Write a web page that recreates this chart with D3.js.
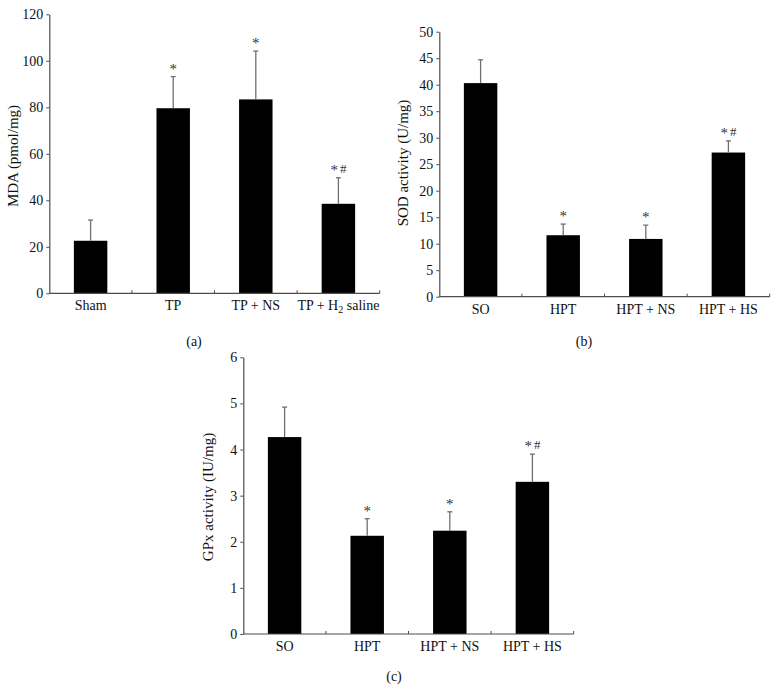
<!DOCTYPE html>
<html><head><meta charset="utf-8">
<script src="https://cdn.jsdelivr.net/npm/d3@7"></script>
<style>body{margin:0;background:#fff}svg{display:block;font-family:"Liberation Serif","Times New Roman",serif}</style>
</head><body><svg id="c" width="777" height="685"></svg>
<script>
// Panel (a)
const catsA = ["Sham","TP","TP + NS","TP + H2 saline"];
const meanA = [22.6, 79.6, 83.4, 38.5];
const errA  = [31.5, 93.2, 104.2, 49.7];
const sigA  = ["", "*", "*", "*#"];
const ticksA = [0,20,40,60,80,100,120];
// Panel (b)
const catsB = ["SO","HPT","HPT + NS","HPT + HS"];
const meanB = [40.3, 11.6, 10.9, 27.2];
const errB  = [44.7, 13.7, 13.5, 29.4];
const sigB  = ["", "*", "*", "*#"];
const ticksB = [0,5,10,15,20,25,30,35,40,45,50];
// Panel (c)
const catsC = ["SO","HPT","HPT + NS","HPT + HS"];
const meanC = [4.27, 2.13, 2.24, 3.30];
const errC  = [4.92, 2.50, 2.65, 3.90];
const sigC  = ["", "*", "*", "*#"];
const ticksC = [0,1,2,3,4,5,6];

const svg = d3.select("#c");
const AX = "#4d4d4d";
const FS = 14;

function panel(cfg){
  const g = svg.append("g");
  const x = d3.scaleBand().domain(cfg.cats).range([cfg.x0, cfg.x1]).paddingInner(0).paddingOuter(0);
  const y = d3.scaleLinear().domain([0, cfg.ymax]).range([cfg.y0, cfg.y1]);
  const bw = x.bandwidth()*0.405;
  g.selectAll("rect.bar").data(cfg.cats).enter().append("rect")
    .attr("x", d=>x(d)+x.bandwidth()/2-bw/2)
    .attr("width", bw)
    .attr("y", (d,i)=>y(cfg.mean[i]))
    .attr("height", (d,i)=>y(0)-y(cfg.mean[i]))
    .attr("fill","#000");
  cfg.cats.forEach((d,i)=>{
    const cx = x(d)+x.bandwidth()/2;
    g.append("line").attr("x1",cx).attr("x2",cx).attr("y1",y(cfg.mean[i])).attr("y2",y(cfg.err[i]))
      .attr("stroke","#707070").attr("stroke-width",1.3);
    g.append("line").attr("x1",cx-2.5).attr("x2",cx+2.5).attr("y1",y(cfg.err[i])).attr("y2",y(cfg.err[i]))
      .attr("stroke","#707070").attr("stroke-width",1.3);
    if(cfg.sig[i]){
      const t = g.append("text").attr("x",cx).attr("y",y(cfg.err[i])-3).attr("text-anchor","middle")
        .attr("font-size",15).attr("fill","#333");
      if(cfg.sig[i]==="*#"){
        t.append("tspan").text("*");
        t.append("tspan").attr("dx",2).attr("dy",-2).attr("font-size",13).text("#");
      } else t.text("*");
    }
  });
  const ya = g.append("g").attr("transform",`translate(${cfg.x0},0)`)
    .call(d3.axisLeft(y).tickValues(cfg.ticks).tickFormat(d3.format("d")).tickSize(3).tickSizeOuter(0).tickPadding(3));
  ya.select(".domain").attr("stroke",AX).attr("stroke-width",1.2);
  ya.selectAll(".tick line").attr("stroke",AX);
  ya.selectAll(".tick text").attr("font-size",FS).attr("fill","#111").attr("font-family","Liberation Serif");
  const xa = g.append("g").attr("transform",`translate(0,${cfg.y0})`);
  xa.append("line").attr("x1",cfg.x0).attr("x2",cfg.x1).attr("y1",0).attr("y2",0).attr("stroke",AX).attr("stroke-width",1.2);
  const bounds = x.domain().slice(1).map(d=>x(d)).concat([cfg.x1]);
  xa.selectAll("line.tk").data(bounds).enter().append("line")
    .attr("x1",d=>d).attr("x2",d=>d).attr("y1",0).attr("y2",-3).attr("stroke",AX);
  xa.selectAll("text.lab").data(cfg.cats).enter().append("text")
    .attr("x",d=>x(d)+x.bandwidth()/2).attr("y",17).attr("text-anchor","middle")
    .attr("font-size",FS).attr("fill","#111")
    .each(function(d){
      const t = d3.select(this);
      if(d==="TP + H2 saline"){
        t.append("tspan").text("TP + H");
        t.append("tspan").attr("font-size",10).attr("dy",3).text("2");
        t.append("tspan").attr("dy",-3).text(" saline");
      } else t.text(d);
    });
  g.append("text").attr("transform",`translate(${cfg.lx},${cfg.ly}) rotate(-90)`)
    .attr("text-anchor","middle").attr("dominant-baseline","middle").attr("font-size",15).attr("fill","#111").text(cfg.ylabel);
  g.append("text").attr("x",cfg.px).attr("y",cfg.py).attr("text-anchor","middle").attr("font-size",FS).attr("fill","#111").text(cfg.plabel);
}

panel({cats:catsA, mean:meanA, err:errA, sig:sigA, ticks:ticksA, ymax:120,
  x0:49.3, x1:379.7, y0:293.3, y1:14.3, ylabel:"MDA (pmol/mg)", lx:15, ly:156, plabel:"(a)", px:194, py:346});
panel({cats:catsB, mean:meanB, err:errB, sig:sigB, ticks:ticksB, ymax:50,
  x0:439.3, x1:769.7, y0:296.7, y1:31.7, ylabel:"SOD activity (U/mg)", lx:405, ly:163, plabel:"(b)", px:584, py:346});
panel({cats:catsC, mean:meanC, err:errC, sig:sigC, ticks:ticksC, ymax:6,
  x0:243.3, x1:573.7, y0:634, y1:357.3, ylabel:"GPx activity (IU/mg)", lx:210, ly:497, plabel:"(c)", px:394, py:681});
</script></body></html>
